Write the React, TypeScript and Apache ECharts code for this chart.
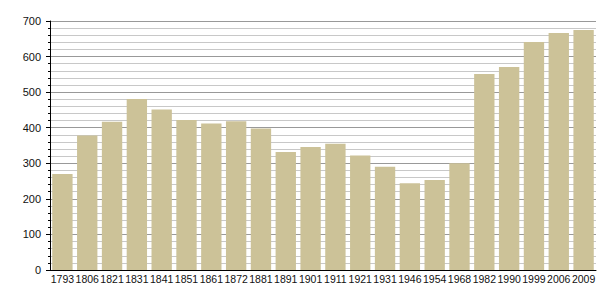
import React, { useEffect, useRef } from "react";
import * as echarts from "echarts";

const years = ["1793","1806","1821","1831","1841","1851","1861","1872","1881","1891","1901","1911","1921","1931","1946","1954","1968","1982","1990","1999","2006","2009"];
const population = [270,378,417,481,451,422,412,418,398,332,346,355,322,290,244,253,300,551,571,641,666,675];

export default function App() {
  const ref = useRef<HTMLDivElement>(null);
  useEffect(() => {
    const chart = echarts.init(ref.current!, null, { renderer: "svg" });
    chart.setOption({
      animation: false,
      backgroundColor: "#ffffff",
      grid: { left: 50, right: 9, top: 21, bottom: 30, containLabel: false },
      xAxis: {
        type: "category",
        data: years,
        axisLine: { lineStyle: { color: "#000", width: 1 } },
        axisTick: { show: false },
        axisLabel: { color: "#111", fontFamily: "Liberation Sans, Arial, sans-serif", fontSize: 10.5, margin: 3, interval: 0 },
      },
      yAxis: {
        type: "value",
        min: 0,
        max: 700,
        interval: 100,
        axisLine: { show: true, lineStyle: { color: "#000", width: 1 } },
        axisTick: { show: true, length: 4, lineStyle: { color: "#000" } },
        minorTick: { show: true, splitNumber: 5, length: 2, lineStyle: { color: "#000" } },
        splitLine: { show: true, lineStyle: { color: "#999", width: 1 } },
        minorSplitLine: { show: true, lineStyle: { color: "#c8c8c8", width: 1 } },
        axisLabel: { color: "#111", fontFamily: "Liberation Sans, Arial, sans-serif", fontSize: 11, margin: 9 },
      },
      series: [
        {
          type: "bar",
          data: population,
          barCategoryGap: "18%",
          itemStyle: { color: "#ccc298" },
        },
      ],
    });
    return () => chart.dispose();
  }, []);
  return <div ref={ref} style={{ width: 605, height: 300, position: "absolute", left: 0, top: 0 }} />;
}
